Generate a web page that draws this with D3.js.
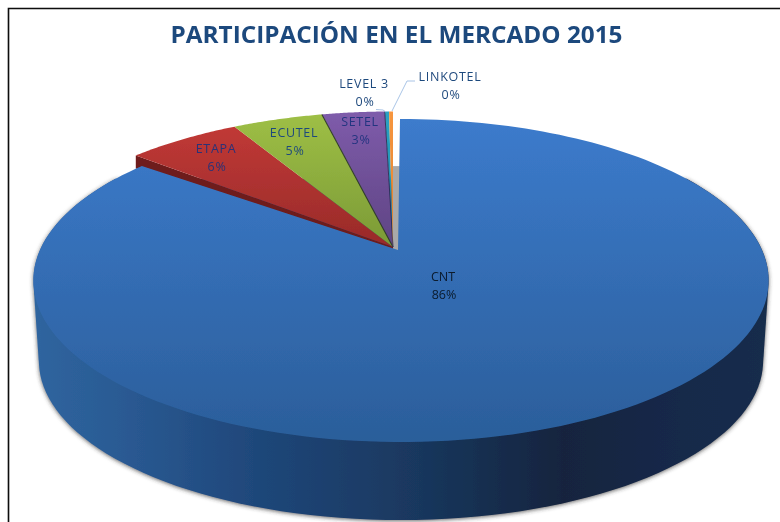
<!DOCTYPE html>
<html><head><meta charset="utf-8">
<style>html,body{margin:0;padding:0;background:#fff}svg{display:block}text{font-family:"Open Sans",sans-serif}</style>
<script src="https://cdn.jsdelivr.net/npm/d3@7"></script></head>
<body><script>
const titleText = "PARTICIPACIÓN EN EL MERCADO 2015";
const categories = ["CNT","ETAPA","ECUTEL","SETEL","LEVEL 3","LINKOTEL"];
const shares = [86, 5.8, 4.6, 3.2, 0.22, 0.2];

const fillsTop = ["#3c7bcc","#c63b38","#9fc046","#7f5cab","#2aa3c4","#f7963f"];
const fillsBottom = ["#2b5e9a","#982a29","#7b9a36","#5e4483","#1f86a3","#e0822f"];
const labelAnchors = [[443,277],[216,149],[294,133],[360,122],[364,84],[450,77]];
const labelColors = ["#0a1a2c","#2a3278","#1f497d","#243480","#1f497d","#1f497d"];

const W = 780, H = 522, k = -0.189, A = 361, B = 155.7, depth = 78;
const svg = d3.select("body").append("svg").attr("width",W).attr("height",H);
const defs = svg.append("defs");
defs.append("filter").attr("id","soft").attr("filterUnits","userSpaceOnUse").attr("x",0).attr("y",0).attr("width",W).attr("height",H)
  .append("feGaussianBlur").attr("stdDeviation",0.45);
defs.append("filter").attr("id","shade").attr("x","-5%").attr("y","-5%").attr("width","110%").attr("height","110%")
  .append("feDropShadow").attr("dx",0).attr("dy",1).attr("stdDeviation",2.2).attr("flood-color","#333").attr("flood-opacity",0.75);
function vgrad(id,a,b,y0,y1){const g=defs.append("linearGradient").attr("id",id).attr("gradientUnits","userSpaceOnUse")
  .attr("x1",0).attr("x2",0).attr("y1",y0).attr("y2",y1);
  g.append("stop").attr("offset",0).attr("stop-color",a);g.append("stop").attr("offset",1).attr("stop-color",b);}
categories.forEach((c,i)=>{ i===0 ? vgrad("g0",fillsTop[0],fillsBottom[0],119,442) : vgrad("g"+i,fillsTop[i],fillsBottom[i],110,247); });
const wallG = defs.append("linearGradient").attr("id","wall").attr("gradientUnits","userSpaceOnUse").attr("x1",34).attr("x2",770).attr("y1",0).attr("y2",0);
[[0,"#2f659f"],[0.12,"#2a5a93"],[0.3,"#1f477a"],[0.5,"#1a3961"],[0.72,"#12243e"],[0.88,"#14294a"],[1,"#172d4c"]]
  .forEach(s=>wallG.append("stop").attr("offset",s[0]).attr("stop-color",s[1]));

const root = svg.append("g").attr("filter","url(#soft)");

// frame
root.append("path").attr("d",`M${W+5},8.5H8.5V${H+5}`).attr("fill","none").attr("stroke","#111").attr("stroke-width",1.6);

root.append("text").attr("x",396.5).attr("y",43).attr("text-anchor","middle").attr("font-size",24).attr("font-weight",700)
  .attr("fill","#1f497d").attr("textLength",452).attr("lengthAdjust","spacingAndGlyphs").text(titleText);

// perspective projection of the unit disc
function proj(theta,r,cx,cy,s){
  const u=r*Math.sin(theta), v=-r*Math.cos(theta), d=1+k*v;
  return [cx+s*A*u/d, cy+s*B*v/d];
}
const pie = d3.pie().sort(null).startAngle(0).endAngle(2*Math.PI);
const arcs = pie(shares);
const line = d3.line();
const sweep = (a0,a1,cx,cy,s)=>d3.range(0,41).map(i=>proj(a0+(a1-a0)*i/40,1,cx,cy,s));

// outer wall
const C = {x:400,y:250}, O = {x:393,y:247,s:1.035};
const nearAngles = d3.range(60,301,2).map(d=>d*Math.PI/180);
const topRim = nearAngles.map(t=>proj(t,1,C.x+1,C.y,1));
const botRim = nearAngles.map(t=>{const p=proj(t,1,C.x+1,C.y,0.985);return [p[0],p[1]+depth+3];});
root.append("path").attr("d",line(d3.polygonHull(topRim.concat(botRim)))+"Z").attr("fill","url(#wall)").attr("filter","url(#shade)");

// grey cut face of CNT, behind the exploded wedges
const r0 = proj(arcs[0].startAngle,1,C.x,C.y,1);
const cutTop = proj(arcs[0].startAngle,0.6,C.x,C.y,1);
root.append("path").attr("d",line([[C.x-8,C.y+3],[C.x,C.y+3],cutTop,[C.x-8,cutTop[1]]])+"Z").attr("fill","#a9a9a9");

// exploded small slices, with their dark cut face
arcs.slice(1).forEach((d,i)=>{
  const idx=i+1, rim=sweep(d.startAngle,d.endAngle,O.x,O.y,O.s), apex=[O.x,O.y];
  if(idx===1){
    const e=rim[0];
    root.append("path").attr("d",line([apex,e,[e[0],e[1]+13],[apex[0],apex[1]+6]])+"Z").attr("fill","#6e1a1a");
  }
  root.append("path").attr("d",line([apex,...rim])+"Z").attr("fill",`url(#g${idx})`);
  if(idx===3) root.append("path").attr("d",line([apex,rim[0]])).attr("fill","none").attr("stroke","#33402a").attr("stroke-width",1.1);
  if(idx===4) root.append("path").attr("d",line([apex,rim[0]])).attr("fill","none").attr("stroke","#2f2a55").attr("stroke-width",0.9);
});

// CNT top (the rim end tucks under the exploded ETAPA wedge)
const cnt = arcs[0], tuck = 2.6*Math.PI/180;
const cntRim = d3.range(0,181).map(i=>proj(cnt.startAngle+(cnt.endAngle-tuck-cnt.startAngle)*i/180,1,C.x+1,C.y,1));
cntRim[0]=r0;
root.append("path").attr("d",line([[C.x-2,C.y],...cntRim])+"Z").attr("fill","url(#g0)");

// leader lines
root.append("path").attr("d",line([[376,109.5],[383,110],[386,112]])).attr("fill","none").attr("stroke","#a9c4e6").attr("stroke-width",1);
root.append("path").attr("d",line([[392,111],[407,81],[415,81]])).attr("fill","none").attr("stroke","#a9c4e6").attr("stroke-width",1);

// labels
const pct = d3.format(".0%"), total = d3.sum(shares);
categories.forEach((c,i)=>{
  const [x,y]=labelAnchors[i];
  const t=root.append("text").attr("text-anchor","middle").attr("font-size",12.5).attr("letter-spacing",i===0?0:0.7).attr("fill",labelColors[i]);
  t.append("tspan").attr("x",x).attr("y",y+4).text(c);
  t.append("tspan").attr("x",x+1).attr("y",y+22).text(pct(shares[i]/total));
});
</script></body></html>
